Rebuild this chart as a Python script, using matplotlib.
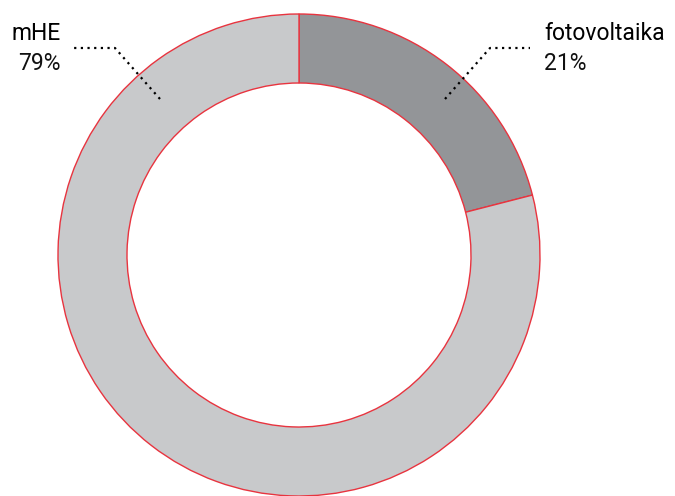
import matplotlib
matplotlib.use('Agg')
from matplotlib import pyplot as plt

# data
labels = ['fotovoltaika', 'mHE']
shares = [21, 79]
colors = ['#939598', '#c8c9cb']

W, H = 675, 496
fig = plt.figure(figsize=(W / 100, H / 100), dpi=100)
ax = fig.add_axes([0, 0, 1, 1])

cx, cy, r = 299, H - 255, 241
ax.pie(shares, colors=colors, startangle=90, counterclock=False,
       center=(cx, cy), radius=r, frame=True,
       wedgeprops=dict(width=69, edgecolor='#e8343f', linewidth=1.0))
ax.set_xlim(0, W)
ax.set_ylim(0, H)
ax.set_aspect('equal')
ax.axis('off')

# leader lines (dotted)
ax.plot([160, 115, 74], [H - 99, H - 48, H - 48], color='black',
        linestyle=(0, (1, 2)), linewidth=1.6)
ax.plot([445, 490, 530], [H - 99, H - 48, H - 48], color='black',
        linestyle=(0, (1, 2)), linewidth=1.6)

font = 'Roboto'
ax.text(61, H - 33, labels[1], ha='right', va='center', fontsize=16.5,
        family=font)
ax.text(61, H - 63, f'{shares[1]}%', ha='right', va='center', fontsize=16.5,
        family=font, color='#111111')
ax.text(544, H - 33, labels[0], ha='left', va='center', fontsize=16.5,
        family=font)
ax.text(544, H - 63, f'{shares[0]}%', ha='left', va='center', fontsize=16.5,
        family=font, color='#111111')

fig.savefig('out.png', dpi=100)
